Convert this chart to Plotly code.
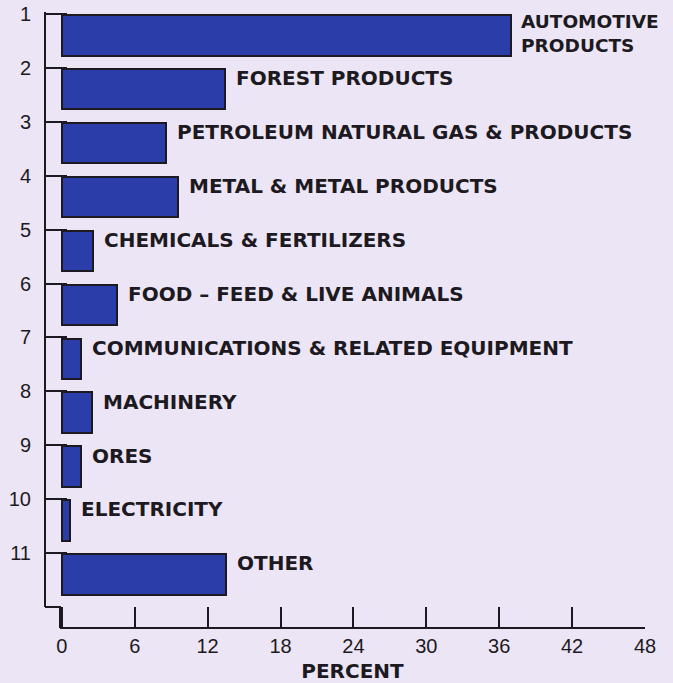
import plotly.graph_objects as go

ranks = [1, 2, 3, 4, 5, 6, 7, 8, 9, 10, 11]
categories = [
    "AUTOMOTIVE<br>PRODUCTS",
    "FOREST PRODUCTS",
    "PETROLEUM NATURAL GAS & PRODUCTS",
    "METAL & METAL PRODUCTS",
    "CHEMICALS & FERTILIZERS",
    "FOOD \u2013 FEED & LIVE ANIMALS",
    "COMMUNICATIONS & RELATED EQUIPMENT",
    "MACHINERY",
    "ORES",
    "ELECTRICITY",
    "OTHER",
]
percent = [37.0, 13.4, 8.6, 9.6, 2.6, 4.5, 1.6, 2.5, 1.6, 0.7, 13.5]
x_ticks = [0, 6, 12, 18, 24, 30, 36, 42, 48]

BG = "#ece5f6"
BAR = "#2a3da9"
INK = "#1c1a20"

BAR_OFFSET = 0.395
BAR_WIDTH = 0.75

fig = go.Figure()
fig.add_trace(go.Bar(
    orientation="h",
    x=percent,
    y=[r + BAR_OFFSET for r in ranks],
    width=BAR_WIDTH,
    marker=dict(color=BAR, line=dict(color=INK, width=2)),
    hoverinfo="skip",
))

for r, v, c in zip(ranks, percent, categories):
    two = "<br>" in c
    fig.add_annotation(
        x=v, y=r + (0.36 if two else 0.19),
        xref="x", yref="y",
        text=f"<b>{c}</b>",
        showarrow=False, xanchor="left", yanchor="middle", align="left",
        xshift=8 if two else 9,
        font=dict(family="DejaVu Sans", size=18.5 if two else 20, color=INK),
    )

x_dom0 = 0.025
y_dom0 = 0.034

fig.update_layout(
    width=673, height=683,
    margin=dict(l=45, r=28, t=12, b=55),
    paper_bgcolor=BG, plot_bgcolor=BG,
    showlegend=False,
    bargap=0,
    xaxis=dict(
        range=[-0.15, 48], domain=[x_dom0, 1],
        anchor="free", position=0, automargin=False,
        tickvals=x_ticks, ticktext=[str(t) for t in x_ticks],
        ticks="inside", ticklen=20, tickwidth=2, tickcolor=INK,
        showline=True, linewidth=2, linecolor=INK,
        showgrid=False, zeroline=False,
        tickfont=dict(family="Liberation Sans", size=20, color=INK),
        title=dict(text="<b>PERCENT</b>", standoff=15,
                   font=dict(family="DejaVu Sans", size=20, color=INK)),
    ),
    yaxis=dict(
        range=[12.0, 0.963], domain=[y_dom0, 1],
        anchor="free", position=0, automargin=False,
        tickvals=ranks, ticktext=[str(r) for r in ranks],
        ticks="inside", ticklen=21, tickwidth=2, tickcolor=INK,
        showline=True, linewidth=2, linecolor=INK,
        showgrid=False, zeroline=False,
        ticklabelstandoff=9,
        tickfont=dict(family="Liberation Sans", size=20, color=INK),
    ),
)

# step connecting the vertical axis to the horizontal axis
fig.add_shape(type="path", xref="paper", yref="paper",
              path=f"M 0 {y_dom0} L {x_dom0} {y_dom0} L {x_dom0} 0",
              line=dict(color=INK, width=2))

fig.write_html("out.html",
               config={"displayModeBar": False},
               post_script="document.body.style.margin='0';document.body.style.background='%s';" % BG)
